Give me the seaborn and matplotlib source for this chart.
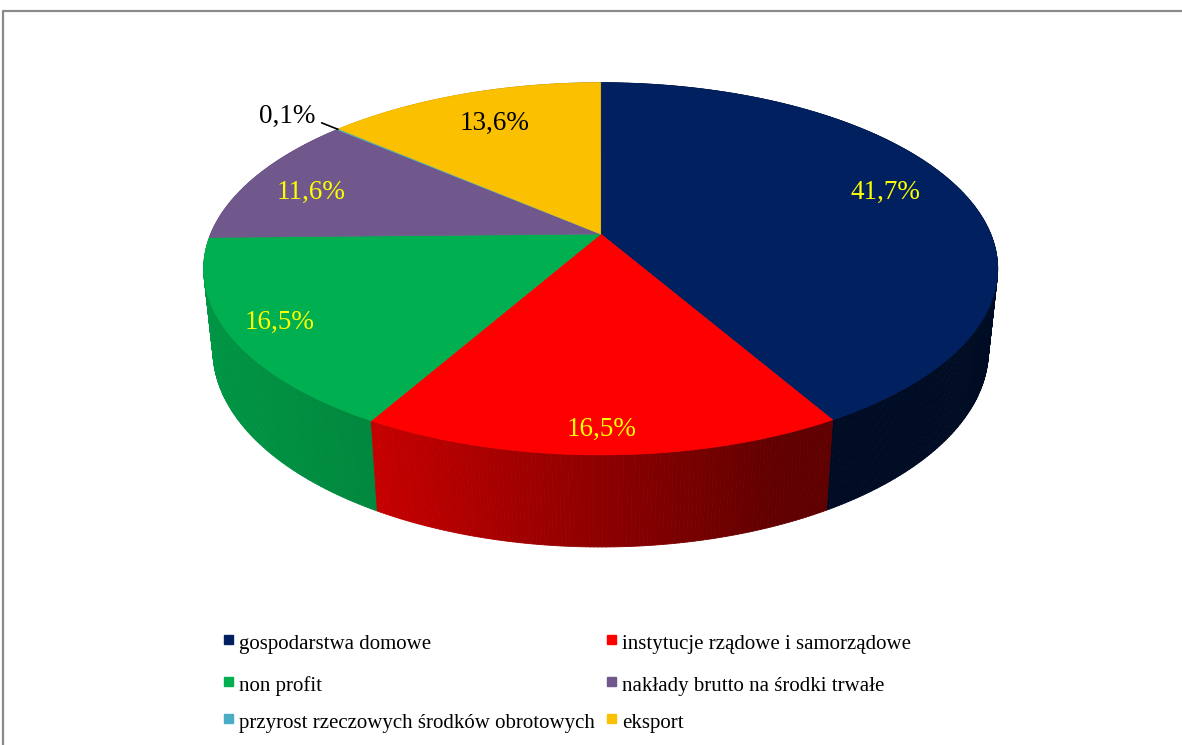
import numpy as np
import matplotlib
matplotlib.use("Agg")
import matplotlib.pyplot as plt
from matplotlib.collections import PolyCollection
from matplotlib.colors import to_rgb
import seaborn as sns

categories = [
    "gospodarstwa domowe",
    "instytucje rządowe i samorządowe",
    "non profit",
    "nakłady brutto na środki trwałe",
    "przyrost rzeczowych środków obrotowych",
    "eksport",
]
shares = [41.7, 16.5, 16.5, 11.6, 0.1, 13.6]
colors = ["#002060", "#FF0000", "#00B050", "#70588C", "#4BACC6", "#FBC000"]
label_colors = ["#FFFF00", "#FFFF00", "#FFFF00", "#FFFF00", "black", "black"]

sns.set_theme(style="white")
plt.rcParams["font.family"] = ["Liberation Serif", "DejaVu Serif"]

# view of the tilted disk (screen pixels)
x0, y0, A = 600.7, 234.0, 390.0
sin_p, cos_p = 0.4605, 0.8877
L = cos_p / 0.187
h = 0.237


def proj(u, v, y3=0.0):
    depth = L + v * cos_p - y3 * sin_p
    yc = v * sin_p + y3 * cos_p
    return x0 + A * L * u / depth, y0 - A * L * yc / depth, depth


def side_shade(u):
    return np.interp(u, [-1, -0.47, 0.38, 1], [0.86, 0.77, 0.38, 0.36])


fig = plt.figure(figsize=(11.82, 7.45), dpi=100)
ax = fig.add_axes([0, 0, 1, 1])
ax.set_xlim(0, 1182)
ax.set_ylim(745, 0)
ax.axis("off")

fracs = np.array(shares) / sum(shares)
starts = np.concatenate([[0], np.cumsum(fracs)[:-1]]) * 2 * np.pi
ends = np.cumsum(fracs) * 2 * np.pi

# side wall
quads, qcols, qdepth = [], [], []
for s, e, c in zip(starts, ends, colors):
    n = max(2, int(np.degrees(e - s) / 0.5) + 1)
    t = np.linspace(s, e, n)
    for t1, t2 in zip(t[:-1], t[1:]):
        u1, v1 = np.sin(t1), np.cos(t1)
        u2, v2 = np.sin(t2), np.cos(t2)
        a = proj(u1, v1)
        b = proj(u2, v2)
        cc = proj(u2, v2, -h)
        d = proj(u1, v1, -h)
        quads.append([a[:2], b[:2], cc[:2], d[:2]])
        um = np.sin((t1 + t2) / 2)
        qcols.append(tuple(np.array(to_rgb(c)) * side_shade(um)))
        qdepth.append((a[2] + b[2]) / 2)
order = np.argsort(qdepth)[::-1]
ax.add_collection(PolyCollection([quads[i] for i in order],
                                 facecolors=[qcols[i] for i in order],
                                 edgecolors=[qcols[i] for i in order],
                                 linewidths=0.6))

# top face
for s, e, c in zip(starts, ends, colors):
    t = np.linspace(s, e, max(2, int(np.degrees(e - s)) + 2))
    px, py, _ = proj(np.sin(t), np.cos(t))
    pts = np.column_stack([np.r_[x0, px], np.r_[y0, py]])
    ax.fill(pts[:, 0], pts[:, 1], facecolor=c, edgecolor=c, lw=0.5)

# data labels
label_r = [0.785, 0.906, 0.877, 0.83, 1.0, 0.743]
label_dy = [-7, 0, 0, 6, 0, -3]
for i, (s, e) in enumerate(zip(starts, ends)):
    txt = f"{shares[i]:.1f}".replace(".", ",") + "%"
    m = (s + e) / 2
    if shares[i] < 1:
        sx, sy, _ = proj(np.sin(m), np.cos(m))
        ex, ey, _ = proj(1.07 * np.sin(m), 1.07 * np.cos(m))
        ax.plot([sx, ex], [sy, ey], color="black", lw=1.2)
        ax.text(ex - 6, ey - 6, txt, color=label_colors[i], fontsize=19.5,
                ha="right", va="center")
    else:
        lx, ly, _ = proj(label_r[i] * np.sin(m), label_r[i] * np.cos(m))
        ax.text(lx, ly + label_dy[i], txt, color=label_colors[i],
                fontsize=19.5, ha="center", va="center")

# legend
rows = [643, 685, 722]
cols_x = [224, 607]
for i, (name, c) in enumerate(zip(categories, colors)):
    r, col = i // 2, i % 2
    ax.add_patch(plt.Rectangle((cols_x[col], rows[r] - 8), 9, 9, color=c))
    ax.text(cols_x[col] + 15, rows[r] + 6, name, fontsize=15,
            ha="left", va="baseline", color="black")

# chart frame
ax.plot([3, 3, 1200], [800, 11, 11], color="#8a8a8a", lw=1.6)

fig.savefig("out.png", dpi=100)
